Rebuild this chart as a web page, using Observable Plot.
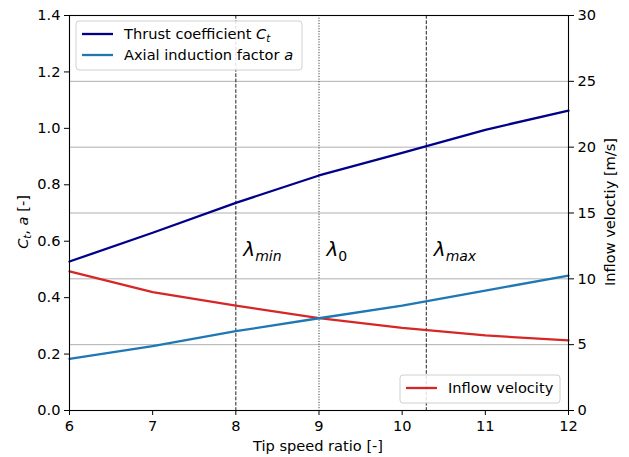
<!DOCTYPE html>
<html>
<head>
<meta charset="utf-8">
<script src="https://cdn.jsdelivr.net/npm/d3@7"></script>
<script src="https://cdn.jsdelivr.net/npm/@observablehq/plot@0.6"></script>
<style>
  html, body { margin: 0; padding: 0; background: #fff; }
  #chart svg { display: block; }
</style>
</head>
<body>
<div id="chart"></div>
<script>
// Tip speed ratio samples
const tipSpeedRatio = [6, 7, 8, 9, 10, 11, 12];
// Thrust coefficient C_t (left axis)
const thrustCoeff = [0.528, 0.630, 0.736, 0.833, 0.913, 0.995, 1.063];
// Axial induction factor a (left axis)
const inductionFactor = [0.183, 0.228, 0.281, 0.327, 0.372, 0.425, 0.478];
// Inflow velocity in m/s (right axis)
const inflowVelocity = [10.56, 8.99, 7.97, 7.01, 6.28, 5.70, 5.32];

// Operating points: λ_min, λ_0, λ_max
const markerNames = ["min", "0", "max"];
const markerValues = [8, 9, 10.29];
const markerDash = ["3.7,1.6", "1,1.65", "3.7,1.6"];

// Tick labels
const xTicks = [6, 7, 8, 9, 10, 11, 12];
const leftTicks = [0, 0.2, 0.4, 0.6, 0.8, 1.0, 1.2, 1.4];
const rightTicks = [0, 5, 10, 15, 20, 25, 30];

// Right axis (0..30 m/s) shares the frame with the left axis (0..1.4)
const leftMax = 1.4, rightMax = 30;
const toLeft = v => v * leftMax / rightMax;

const rows = tipSpeedRatio.map((x, i) => ({
  x, ct: thrustCoeff[i], a: inductionFactor[i], v: toLeft(inflowVelocity[i])
}));
const markers = markerValues.map((x, i) => ({ x, name: markerNames[i], dash: markerDash[i] }));

const colors = { ct: "#00008b", a: "#1f77b4", v: "#d62728" };
const fs = 14.6;

const plot = Plot.plot({
  width: 629,
  height: 457,
  marginLeft: 69,
  marginRight: 61,
  marginTop: 15,
  marginBottom: 47,
  style: { fontFamily: "DejaVu Sans", fontSize: fs + "px", color: "black", background: "white" },
  x: { domain: [6, 12] },
  y: { domain: [0, leftMax] },
  marks: [
    Plot.ruleY(rightTicks.slice(1, -1), { y: toLeft, stroke: "#b0b0b0", strokeWidth: 1 }),
    ...markers.map(m => Plot.ruleX([m.x], { stroke: "#222", strokeWidth: 1, strokeDasharray: m.dash })),
    Plot.line(rows, { x: "x", y: "v", stroke: colors.v, strokeWidth: 2.3 }),
    Plot.line(rows, { x: "x", y: "a", stroke: colors.a, strokeWidth: 2.3 }),
    Plot.line(rows, { x: "x", y: "ct", stroke: colors.ct, strokeWidth: 2.3 }),
    Plot.frame({ stroke: "black", strokeWidth: 1.1 }),
    Plot.axisX({ ticks: xTicks, tickSize: 5, tickPadding: 5, tickFormat: d => String(d), label: null }),
    Plot.axisY({ anchor: "left", ticks: leftTicks, tickSize: 5, tickPadding: 4, tickFormat: d => d.toFixed(1), label: null }),
    Plot.axisY({ anchor: "right", ticks: rightTicks.map(toLeft), tickSize: 5, tickPadding: 4, tickFormat: d => String(Math.round(d * rightMax / leftMax)), label: null })
  ]
});

document.getElementById("chart").appendChild(plot);

const svg = d3.select(plot);
const xs = plot.scale("x"), ys = plot.scale("y");
const font = "DejaVu Sans";

// Axis titles
svg.append("text").attr("x", 318).attr("y", 451).attr("text-anchor", "middle")
  .attr("font-family", font).attr("font-size", fs).text("Tip speed ratio [-]");

const yl = svg.append("text").attr("transform", "translate(28,222) rotate(-90)")
  .attr("text-anchor", "middle").attr("font-family", font).attr("font-size", fs);
yl.append("tspan").attr("font-style", "italic").text("C");
yl.append("tspan").attr("font-style", "italic").attr("font-size", 10.2).attr("dy", 3).text("t");
yl.append("tspan").attr("dy", -3).text(", ");
yl.append("tspan").attr("font-style", "italic").text("a");
yl.append("tspan").text(" [-]");

svg.append("text").attr("transform", "translate(615,212) rotate(-90)")
  .attr("text-anchor", "middle").attr("font-family", font).attr("font-size", fs)
  .text("Inflow veloctiy [m/s]");

// λ labels next to each operating-point line
markers.forEach(m => {
  const t = svg.append("text")
    .attr("x", xs.apply(m.x) + 8).attr("y", ys.apply(0.545))
    .attr("text-anchor", "start")
    .attr("font-family", font).attr("font-size", 20);
  t.append("tspan").attr("font-style", "italic").text("λ");
  t.append("tspan").attr("font-style", m.name === "0" ? "normal" : "italic")
    .attr("font-size", 14).attr("dy", 5).text(m.name);
});

// Legend helper
function legend(x, y, w, h, items) {
  const g = svg.append("g");
  g.append("rect").attr("x", x).attr("y", y).attr("width", w).attr("height", h)
    .attr("rx", 3).attr("fill", "white").attr("fill-opacity", 0.85)
    .attr("stroke", "#d0d0d0").attr("stroke-width", 1);
  items.forEach((it, i) => {
    const cy = y + 13 + i * 21;
    g.append("line").attr("x1", x + 6).attr("x2", x + 37).attr("y1", cy).attr("y2", cy)
      .attr("stroke", it.color).attr("stroke-width", 2.3);
    const t = g.append("text").attr("x", x + 48).attr("y", cy + 5)
      .attr("text-anchor", "start")
      .attr("font-family", font).attr("font-size", fs);
    it.parts.forEach(p => {
      const s = t.append("tspan").text(p.t);
      if (p.i) s.attr("font-style", "italic");
      if (p.sub) s.attr("font-size", 10.2).attr("dy", 3);
    });
  });
}

legend(76, 21, 226, 49, [
  { color: colors.ct, parts: [{ t: "Thrust coefficient " }, { t: "C", i: true }, { t: "t", i: true, sub: true }] },
  { color: colors.a, parts: [{ t: "Axial induction factor " }, { t: "a", i: true }] }
]);
legend(400, 375, 160, 28, [
  { color: colors.v, parts: [{ t: "Inflow velocity" }] }
]);
</script>
</body>
</html>
